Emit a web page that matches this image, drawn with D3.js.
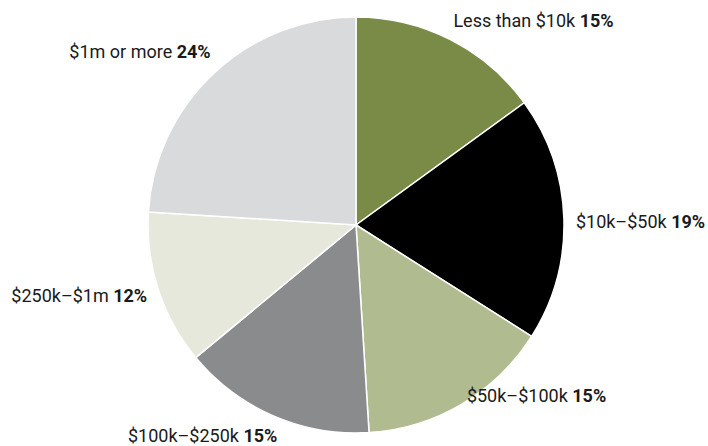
<!DOCTYPE html>
<html>
<head>
<meta charset="utf-8">
<script src="https://cdn.jsdelivr.net/npm/d3@7"></script>
<style>
  body { margin: 0; background: #fff; }
  svg { display: block; }
</style>
</head>
<body>
<div id="chart"></div>
<script>
const width = 708;
const height = 446;

const categories = ["Less than $10k", "$10k–$50k", "$50k–$100k", "$100k–$250k", "$250k–$1m", "$1m or more"];
const shares = [15, 19, 15, 15, 12, 24];
const colors = ["#7a8b48", "#000000", "#b0bb90", "#8a8b8d", "#e6e8dc", "#d9dadc"];

// label nudges from the slice's outer edge: [dx, dy, anchor]
const labelNudge = [
    [3, -13, "start"],
    [12, 10, "start"],
    [5, -2, "start"],
    [4, 26, "end"],
    [-11, 13, "end"],
    [-3, -15, "end"]
];

const cx = 356, cy = 225, radius = 208;

const data = categories.map((c, i) => ({name: c, value: shares[i], color: colors[i], i}));

const pie = d3.pie().sort(null).value(d => d.value);
const arc = d3.arc().innerRadius(0).outerRadius(radius);

const svg = d3.select("#chart")
    .append("svg")
    .attr("width", width)
    .attr("height", height)
    .attr("viewBox", [0, 0, width, height])
    .style("font", "18px Roboto, sans-serif");

const g = svg.append("g").attr("transform", `translate(${cx},${cy})`);

const arcs = pie(data);

g.selectAll("path")
    .data(arcs)
    .join("path")
    .attr("d", arc)
    .attr("fill", d => d.data.color)
    .attr("stroke", "#fff")
    .attr("stroke-width", 1.5);

const label = g.selectAll("text")
    .data(arcs)
    .join("text")
    .attr("transform", d => {
        const a = (d.startAngle + d.endAngle) / 2;
        const n = labelNudge[d.data.i];
        return `translate(${Math.sin(a) * radius + n[0]},${-Math.cos(a) * radius + n[1]})`;
    })
    .attr("text-anchor", d => labelNudge[d.data.i][2])
    .attr("fill", "#1a1a1a");

label.append("tspan").text(d => d.data.name + " ");
label.append("tspan").attr("font-weight", "bold").text(d => d.data.value + "%");
</script>
</body>
</html>
